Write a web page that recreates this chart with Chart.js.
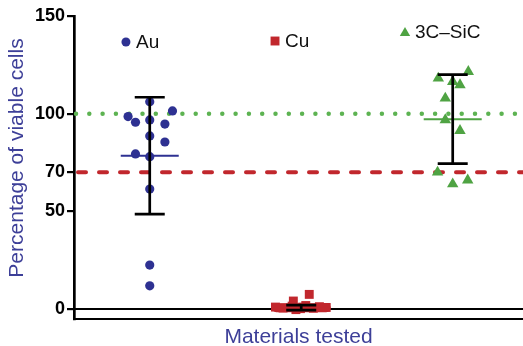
<!DOCTYPE html>
<html>
<head>
<meta charset="utf-8">
<script src="https://cdn.jsdelivr.net/npm/chart.js@4/dist/chart.umd.min.js"></script>
<style>
  html, body { margin: 0; padding: 0; background: #fff; }
  #wrap { width: 523px; height: 346px; position: relative; }
</style>
</head>
<body>
<div id="wrap"><canvas id="viability"></canvas></div>
<script>
// Cell viability per material (%), one point per sample
const materials = ['Au', 'Cu', '3C\u2013SiC'];
const materialPos = [1, 2, 3];

const auX = [1.0, 1.15, 0.857, 0.906, 1.0, 1.1, 1.0, 1.1, 0.906, 1.0, 1.0, 1.0, 1.0];
const auY = [106.1, 101.4, 98.5, 95.6, 96.8, 94.7, 88.6, 85.5, 79.4, 78.0, 61.4, 22.5, 11.9];

const cuX = [2.053, 1.948, 1.83, 1.88, 1.94, 1.965, 1.995, 2.03, 2.08, 2.12, 2.165, 2.01];
const cuY = [7.5, 4.1, 1.0, 0.5, 1.5, -0.3, 0.2, 1.8, 0.4, 1.2, 0.8, 1.0];

const sicX = [2.905, 3.103, 3.0, 3.048, 2.951, 2.951, 3.048, 2.9, 3.0, 3.099];
const sicY = [118.1, 121.5, 116.4, 114.7, 107.9, 96.8, 91.3, 70.0, 64.0, 66.0];

// mean and standard deviation of each group
const groupMean = [78.5, 0.7, 97.2];
const groupSD = [29.9, 1.3, 22.8];

const yTicks = [0, 50, 70, 100, 150];
const controlLevel = 100;
const thresholdLevel = 70;

const X_MIN = 0.5, X_MAX = 3.464;
const FONT = "'Liberation Sans', Arial, Helvetica, sans-serif";
const BLUE = '#2e3192';
const RED = '#c1272d';
const GREEN = '#4fa343';
const TITLE_BLUE = '#3d3f98';

const toPoints = (xs, ys) => xs.map((x, i) => ({ x: x, y: ys[i] }));

// mean line + SD whiskers drawn on top of the points
const errorBars = {
  id: 'errorBars',
  afterDatasetsDraw(chart) {
    const { ctx, scales: { x, y } } = chart;
    const colors = [BLUE, RED, GREEN];
    ctx.save();
    materialPos.forEach((pos, i) => {
      const cx = x.getPixelForValue(pos);
      const meanY = y.getPixelForValue(groupMean[i]);
      const topY = y.getPixelForValue(groupMean[i] + groupSD[i]);
      const botY = y.getPixelForValue(groupMean[i] - groupSD[i]);

      // Cu sits on zero, its mean bar is drawn thick like the squares
      const thick = i === 1;
      ctx.strokeStyle = colors[i];
      ctx.lineWidth = thick ? 9 : 2;
      ctx.lineCap = thick ? 'round' : 'butt';
      ctx.beginPath();
      ctx.moveTo(cx - (thick ? 25 : 29), meanY);
      ctx.lineTo(cx + (thick ? 25 : 29), meanY);
      ctx.stroke();

      ctx.strokeStyle = '#000';
      ctx.lineWidth = 2.7;
      ctx.lineCap = 'butt';
      ctx.beginPath();
      ctx.moveTo(cx, topY);
      ctx.lineTo(cx, botY);
      ctx.moveTo(cx - 15, topY);
      ctx.lineTo(cx + 15, topY);
      ctx.moveTo(cx - 15, botY);
      ctx.lineTo(cx + 15, botY);
      ctx.stroke();
    });
    ctx.restore();
  }
};

// zero line, group labels and the rotated y title
const decorations = {
  id: 'decorations',
  beforeDatasetsDraw(chart) {
    const { ctx, chartArea, scales: { y } } = chart;
    const zeroY = y.getPixelForValue(0);
    ctx.save();
    ctx.strokeStyle = '#000';
    ctx.lineWidth = 2;
    ctx.beginPath();
    ctx.moveTo(chartArea.left - 7, zeroY);
    ctx.lineTo(chartArea.right, zeroY);
    ctx.stroke();
    ctx.restore();
  },
  afterDraw(chart) {
    const { ctx, scales: { x, y } } = chart;
    const keys = [
      { label: materials[0], style: 'circle', color: BLUE, radius: 4.5, at: [0.843, 136.7] },
      { label: materials[1], style: 'rect', color: RED, radius: 6.3, at: [1.827, 137.2] },
      { label: materials[2], style: 'triangle', color: GREEN, radius: 6, at: [2.685, 141.8] }
    ];
    ctx.save();
    ctx.font = '19px ' + FONT;
    ctx.textBaseline = 'middle';
    ctx.textAlign = 'left';
    keys.forEach(k => {
      const px = x.getPixelForValue(k.at[0]);
      const py = y.getPixelForValue(k.at[1]);
      ctx.fillStyle = k.color;
      ctx.strokeStyle = k.color;
      ctx.lineWidth = 0;
      Chart.helpers.drawPoint(ctx, { pointStyle: k.style, radius: k.radius, borderWidth: 0 }, px, py + (k.style === 'triangle' ? 1 : 0));
      ctx.fillStyle = '#111';
      ctx.fillText(k.label, px + 10, py + 1);
    });

    ctx.translate(17, 158);
    ctx.rotate(-Math.PI / 2);
    ctx.textAlign = 'center';
    ctx.fillStyle = TITLE_BLUE;
    ctx.font = '21px ' + FONT;
    ctx.fillText('Percentage of viable cells', 0, 0);
    ctx.restore();
  }
};

const refLine = (level) => [{ x: X_MIN, y: level }, { x: X_MAX, y: level }];

new Chart(document.getElementById('viability'), {
  type: 'scatter',
  data: {
    datasets: [
      {
        label: 'control',
        type: 'line',
        data: refLine(controlLevel),
        borderColor: '#5db352',
        borderWidth: 4.5,
        borderDash: [0, 13.3],
        borderDashOffset: -2,
        borderCapStyle: 'round',
        pointRadius: 0,
        order: 10
      },
      {
        label: 'threshold',
        type: 'line',
        data: refLine(thresholdLevel),
        borderColor: RED,
        borderWidth: 4,
        borderDash: [8, 13],
        borderDashOffset: -4,
        borderCapStyle: 'round',
        pointRadius: 0,
        order: 10
      },
      {
        label: materials[0],
        data: toPoints(auX, auY),
        pointStyle: 'circle',
        pointRadius: 4.6,
        backgroundColor: BLUE,
        borderWidth: 0,
        order: 1
      },
      {
        label: materials[1],
        data: toPoints(cuX, cuY),
        pointStyle: 'rect',
        pointRadius: 6.3,
        backgroundColor: RED,
        borderWidth: 0,
        order: 1
      },
      {
        label: materials[2],
        data: toPoints(sicX, sicY),
        pointStyle: 'triangle',
        pointRadius: 6.6,
        backgroundColor: GREEN,
        borderWidth: 0,
        order: 1
      }
    ]
  },
  options: {
    responsive: true,
    maintainAspectRatio: false,
    animation: false,
    layout: { autoPadding: false, padding: { top: 16, right: 0, bottom: 0, left: 0 } },
    plugins: {
      legend: { display: false },
      tooltip: { enabled: false }
    },
    scales: {
      x: {
        type: 'linear',
        min: X_MIN,
        max: X_MAX,
        ticks: { display: false },
        grid: { display: false, drawTicks: false },
        border: { display: true, color: '#000', width: 2 },
        title: {
          display: true,
          text: 'Materials tested',
          color: TITLE_BLUE,
          font: { family: FONT, size: 21, lineHeight: 1 },
          padding: { top: 0, bottom: -2 }
        },
        afterFit(scale) { scale.height = 27; }
      },
      y: {
        type: 'linear',
        min: -5.1,
        max: 150,
        afterBuildTicks(scale) {
          scale.ticks = yTicks.map(v => ({ value: v }));
        },
        ticks: {
          color: '#000',
          padding: 2,
          font: { family: FONT, size: 18, weight: 'bold' }
        },
        grid: {
          drawOnChartArea: false,
          drawTicks: true,
          tickLength: 7,
          color: '#000',
          lineWidth: 2.2
        },
        border: { display: true, color: '#000', width: 2.7 },
        afterFit(scale) { scale.width = 74; }
      }
    }
  },
  plugins: [decorations, errorBars]
});
</script>
</body>
</html>
